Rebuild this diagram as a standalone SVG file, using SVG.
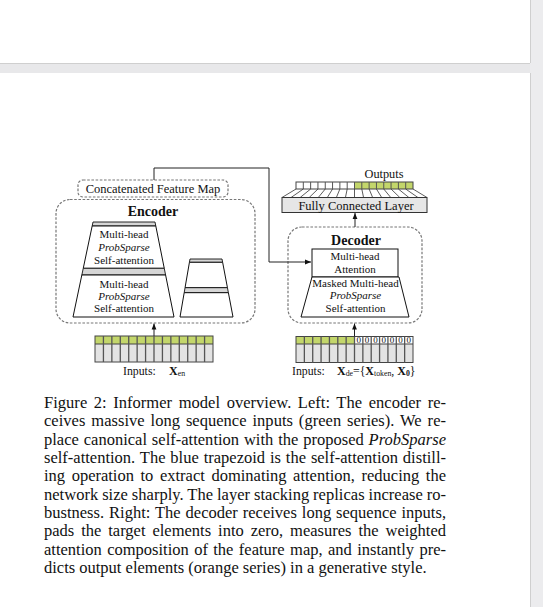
<svg xmlns="http://www.w3.org/2000/svg" width="543" height="607" viewBox="0 0 543 607">
<defs>
<marker id="ah" viewBox="0 0 10 10" refX="10" refY="5" markerWidth="6" markerHeight="6" orient="auto" markerUnits="userSpaceOnUse"><path d="M0,1 L10,5 L0,9 z" fill="#111"/></marker>
</defs>
<style>
.t{font-family:"Liberation Serif","Times New Roman",serif;fill:#111}
.m{text-anchor:middle}
.s{font-size:11px}
.lbl{font-size:12.5px}
.b{font-weight:bold}
.i{font-style:italic}
.dash{fill:none;stroke:#777;stroke-width:1.2;stroke-dasharray:2.6 1.6}
.trap{fill:#fff;stroke:#111;stroke-width:1}
.bar{fill:#d6d6d6;stroke:#111;stroke-width:0.9}
.conn{fill:none;stroke:#222;stroke-width:1}
.green{fill:#c3d66b}
.grey{fill:#e3e3e3}
.cellbox{fill:none;stroke:#444;stroke-width:1}
.sep{stroke:#555;stroke-width:1.3}
.fan{stroke:#333;stroke-width:0.8}
.cap{font-family:"Liberation Serif","Times New Roman",serif;font-size:16.5px;fill:#111}
</style>

<!-- page chrome -->
<rect x="0" y="63" width="530" height="10" fill="#e8e8ea"/>
<line x1="0" y1="63.5" x2="530" y2="63.5" stroke="#cfcfcf"/>
<rect x="530" y="0" width="13" height="607" fill="#ececee"/>
<line x1="530.5" y1="0" x2="530.5" y2="63" stroke="#cfcfcf"/>
<line x1="530.5" y1="73" x2="530.5" y2="607" stroke="#cfcfcf"/>

<!-- Encoder -->
<g id="concat">
<rect class="dash" x="78" y="180" width="150" height="17" rx="5"/>
<text class="t lbl m" x="153" y="193">Concatenated Feature Map</text>
</g>
<g id="encoder">
<rect class="dash" x="56" y="199.5" width="199" height="123.5" rx="14"/>
<text class="t b m" x="153" y="216" font-size="14">Encoder</text>
</g>
<g id="enc-stack-main">
<polygon class="bar" points="93,222 155,222 155.8,226 92.16,226"/>
<polygon class="trap" points="92.16,226 155.8,226 164.26,268.3 83.25,268.3"/>
<polygon class="bar" points="83.25,268.3 164.26,268.3 165.6,275 81.84,275"/>
<polygon class="trap" points="81.84,275 165.6,275 174,317 73,317"/>
<text class="t s m" x="124" y="237.5">Multi-head</text>
<text class="t s m i" x="124" y="250.5">ProbSparse</text>
<text class="t s m" x="124" y="263.5">Self-attention</text>
<text class="t s m" x="124" y="287.5">Multi-head</text>
<text class="t s m i" x="124" y="299.5">ProbSparse</text>
<text class="t s m" x="124" y="311.5">Self-attention</text>
</g>
<g id="enc-stack-replica">
<polygon class="bar" points="190,259 222,259 222.63,262.3 189.43,262.3"/>
<polygon class="trap" points="189.43,262.3 222.63,262.3 227.44,287.7 185.05,287.7"/>
<polygon class="bar" points="185.05,287.7 227.44,287.7 228.39,292.7 184.19,292.7"/>
<polygon class="trap" points="184.19,292.7 228.39,292.7 233,317 180,317"/>
</g>
<g id="enc-inputs">
<rect class="green" x="95" y="336" width="118" height="8"/>
<rect class="grey" x="95" y="344" width="118" height="18"/>
<rect class="cellbox" x="95" y="336" width="118" height="26"/>
<line class="cellbox" x1="95" y1="344" x2="213" y2="344"/>
<g class="sep">
<line x1="103.43" y1="336" x2="103.43" y2="362"/><line x1="111.86" y1="336" x2="111.86" y2="362"/><line x1="120.29" y1="336" x2="120.29" y2="362"/><line x1="128.71" y1="336" x2="128.71" y2="362"/><line x1="137.14" y1="336" x2="137.14" y2="362"/><line x1="145.57" y1="336" x2="145.57" y2="362"/><line x1="154" y1="336" x2="154" y2="362"/><line x1="162.43" y1="336" x2="162.43" y2="362"/><line x1="170.86" y1="336" x2="170.86" y2="362"/><line x1="179.29" y1="336" x2="179.29" y2="362"/><line x1="187.71" y1="336" x2="187.71" y2="362"/><line x1="196.14" y1="336" x2="196.14" y2="362"/><line x1="204.57" y1="336" x2="204.57" y2="362"/>
</g>
<text class="t" x="123" y="374.5" font-size="11.8">Inputs:<tspan x="169" class="b" font-size="12">X</tspan><tspan font-size="7.8" dy="1.5">en</tspan></text>
</g>

<!-- Decoder -->
<g id="decoder">
<rect class="dash" x="288" y="227" width="134" height="96" rx="14"/>
<text class="t b m" x="356" y="244.5" font-size="14">Decoder</text>
</g>
<g id="dec-attention">
<rect class="trap" x="312" y="249" width="86" height="28"/>
<text class="t s m" x="355" y="259.5">Multi-head</text>
<text class="t s m" x="355" y="273">Attention</text>
</g>
<g id="dec-masked">
<polygon class="trap" points="312,277 399,277 409,317 301,317"/>
<text class="t s m" x="355.5" y="286.5">Masked Multi-head</text>
<text class="t s m i" x="355.5" y="299">ProbSparse</text>
<text class="t s m" x="355.5" y="311.5">Self-attention</text>
</g>
<g id="fc">
<rect x="282" y="197.5" width="145" height="15" fill="#e6e6e6" stroke="#333" stroke-width="1"/>
<text class="t lbl m" x="356" y="209.5">Fully Connected Layer</text>
</g>
<g id="outputs">
<rect x="296" y="182" width="58.5" height="7" fill="#fff"/>
<rect class="green" x="354.5" y="182" width="58.5" height="7"/>
<rect class="cellbox" x="296" y="182" width="117" height="7"/>
<g class="sep" style="stroke-width:1">
<line x1="303.31" y1="182" x2="303.31" y2="189"/><line x1="310.63" y1="182" x2="310.63" y2="189"/><line x1="317.94" y1="182" x2="317.94" y2="189"/><line x1="325.25" y1="182" x2="325.25" y2="189"/><line x1="332.56" y1="182" x2="332.56" y2="189"/><line x1="339.88" y1="182" x2="339.88" y2="189"/><line x1="347.19" y1="182" x2="347.19" y2="189"/><line x1="354.5" y1="182" x2="354.5" y2="189"/><line x1="361.81" y1="182" x2="361.81" y2="189"/><line x1="369.13" y1="182" x2="369.13" y2="189"/><line x1="376.44" y1="182" x2="376.44" y2="189"/><line x1="383.75" y1="182" x2="383.75" y2="189"/><line x1="391.06" y1="182" x2="391.06" y2="189"/><line x1="398.38" y1="182" x2="398.38" y2="189"/><line x1="405.69" y1="182" x2="405.69" y2="189"/>
</g>
<g class="fan">
<line x1="296" y1="189" x2="282" y2="197.5"/><line x1="303.31" y1="189" x2="291.06" y2="197.5"/><line x1="310.63" y1="189" x2="300.13" y2="197.5"/><line x1="317.94" y1="189" x2="309.19" y2="197.5"/><line x1="325.25" y1="189" x2="318.25" y2="197.5"/><line x1="332.56" y1="189" x2="327.31" y2="197.5"/><line x1="339.88" y1="189" x2="336.38" y2="197.5"/><line x1="347.19" y1="189" x2="345.44" y2="197.5"/><line x1="354.5" y1="189" x2="354.5" y2="197.5"/><line x1="361.81" y1="189" x2="363.56" y2="197.5"/><line x1="369.13" y1="189" x2="372.63" y2="197.5"/><line x1="376.44" y1="189" x2="381.69" y2="197.5"/><line x1="383.75" y1="189" x2="390.75" y2="197.5"/><line x1="391.06" y1="189" x2="399.81" y2="197.5"/><line x1="398.38" y1="189" x2="408.88" y2="197.5"/><line x1="405.69" y1="189" x2="417.94" y2="197.5"/><line x1="413" y1="189" x2="427" y2="197.5"/>
</g>
<text class="t m" x="384" y="178" font-size="12.3">Outputs</text>
</g>
<g id="dec-inputs">
<rect class="green" x="296" y="336.5" width="58.5" height="7.5"/>
<rect x="354.5" y="336.5" width="58.5" height="7.5" fill="#fff"/>
<rect class="grey" x="296" y="344" width="117" height="18.5"/>
<rect class="cellbox" x="296" y="336.5" width="117" height="26"/>
<line class="cellbox" x1="296" y1="344" x2="413" y2="344"/>
<g class="sep">
<line x1="304.36" y1="336.5" x2="304.36" y2="362.5"/><line x1="312.71" y1="336.5" x2="312.71" y2="362.5"/><line x1="321.07" y1="336.5" x2="321.07" y2="362.5"/><line x1="329.43" y1="336.5" x2="329.43" y2="362.5"/><line x1="337.79" y1="336.5" x2="337.79" y2="362.5"/><line x1="346.14" y1="336.5" x2="346.14" y2="362.5"/><line x1="354.5" y1="336.5" x2="354.5" y2="362.5"/><line x1="362.86" y1="336.5" x2="362.86" y2="362.5"/><line x1="371.21" y1="336.5" x2="371.21" y2="362.5"/><line x1="379.57" y1="336.5" x2="379.57" y2="362.5"/><line x1="387.93" y1="336.5" x2="387.93" y2="362.5"/><line x1="396.29" y1="336.5" x2="396.29" y2="362.5"/><line x1="404.64" y1="336.5" x2="404.64" y2="362.5"/>
</g>
<g class="t m" font-size="9">
<text x="358.68" y="343.3">0</text><text x="367.04" y="343.3">0</text><text x="375.39" y="343.3">0</text><text x="383.75" y="343.3">0</text><text x="392.11" y="343.3">0</text><text x="400.46" y="343.3">0</text><text x="408.82" y="343.3">0</text>
</g>
<text class="t" x="292" y="374.5" font-size="11.8">Inputs:<tspan x="337" class="b" font-size="12">X</tspan><tspan font-size="7.8" dy="1.5">de</tspan><tspan dy="-1.5">={</tspan><tspan class="b" font-size="12">X</tspan><tspan font-size="7.8" dy="1.5">token</tspan><tspan dy="-1.5">, </tspan><tspan class="b" font-size="12">X</tspan><tspan font-size="7.8" class="b" dy="1.5">0</tspan><tspan dy="-1.5">}</tspan></text>
</g>

<!-- Connectors -->
<g id="connectors">
<path class="conn" d="M154,180 V168 H269 V262 H311" marker-end="url(#ah)"/>
<path class="conn" d="M154,336 V323.5" marker-end="url(#ah)"/>
<path class="conn" d="M354.5,336.5 V323.5" marker-end="url(#ah)"/>
<path class="conn" d="M355,227 V213" marker-end="url(#ah)"/>
</g>

<!-- Caption -->
<g id="caption">
<text class="cap" x="44" y="408" word-spacing="2.43" textLength="402" lengthAdjust="spacing">Figure 2: Informer model overview. Left: The encoder re-</text>
<text class="cap" x="44" y="426.3" word-spacing="1.74" textLength="402" lengthAdjust="spacing">ceives massive long sequence inputs (green series). We re-</text>
<text class="cap" x="44" y="444.7" word-spacing="0.7" textLength="402" lengthAdjust="spacing">place canonical self-attention with the proposed <tspan font-style="italic">ProbSparse</tspan></text>
<text class="cap" x="44" y="463" word-spacing="0.74" textLength="402" lengthAdjust="spacing">self-attention. The blue trapezoid is the self-attention distill-</text>
<text class="cap" x="44" y="481.3" word-spacing="2.44" textLength="402" lengthAdjust="spacing">ing operation to extract dominating attention, reducing the</text>
<text class="cap" x="44" y="499.7" word-spacing="-0.22" textLength="402" lengthAdjust="spacing">network size sharply. The layer stacking replicas increase ro-</text>
<text class="cap" x="44" y="518" word-spacing="0.81" textLength="402" lengthAdjust="spacing">bustness. Right: The decoder receives long sequence inputs,</text>
<text class="cap" x="44" y="536.3" word-spacing="2.78" textLength="402" lengthAdjust="spacing">pads the target elements into zero, measures the weighted</text>
<text class="cap" x="44" y="554.7" word-spacing="1.26" textLength="402" lengthAdjust="spacing">attention composition of the feature map, and instantly pre-</text>
<text class="cap" x="44" y="573">dicts output elements (orange series) in a generative style.</text>
</g>
</svg>
